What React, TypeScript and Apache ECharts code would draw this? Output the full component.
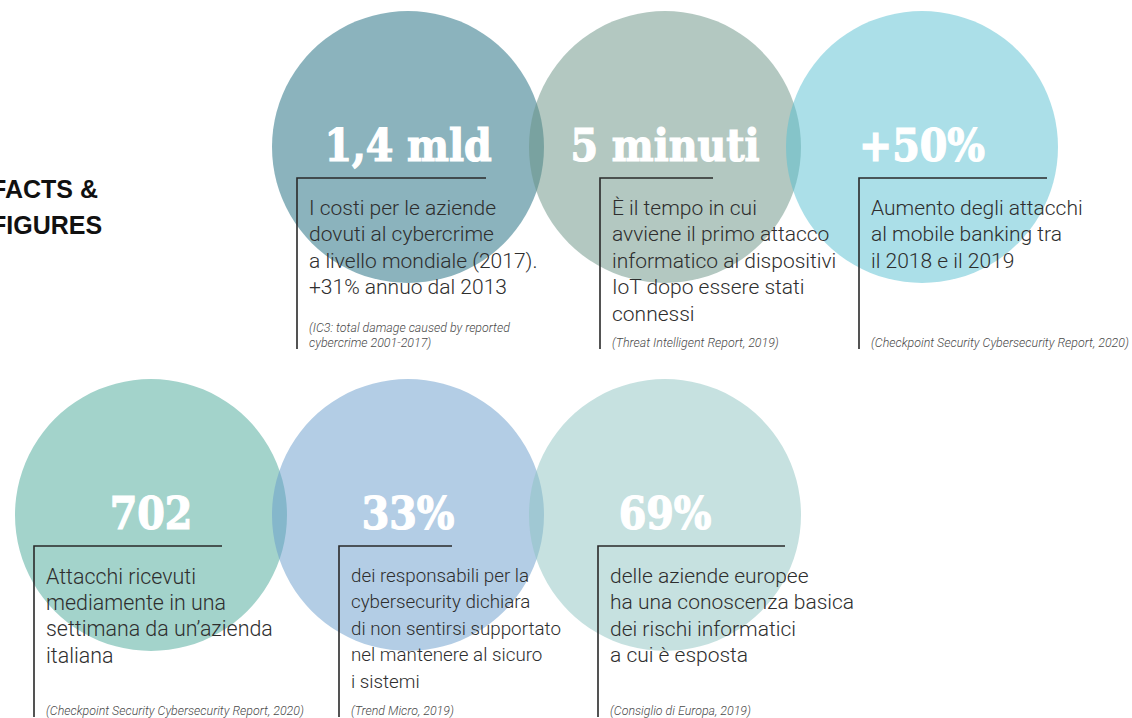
import React, { useEffect, useRef } from "react";
import * as echarts from "echarts";

// ---- data ----
const titleLines = ["FACTS &", "FIGURES"];
const figures = ["1,4 mld", "5 minuti", "+50%", "702", "33%", "69%"];
const columns = [1, 2, 3, 0, 1, 2];
const rows = [0, 0, 0, 1, 1, 1];
const descriptions = [
  ["I costi per le aziende", "dovuti al cybercrime", "a livello mondiale (2017).", "+31% annuo dal 2013"],
  ["È il tempo in cui", "avviene il primo attacco", "informatico ai dispositivi", "IoT dopo essere stati", "connessi"],
  ["Aumento degli attacchi", "al mobile banking tra", "il 2018 e il 2019"],
  ["Attacchi ricevuti", "mediamente in una", "settimana da un’azienda", "italiana"],
  ["dei responsabili per la", "cybersecurity dichiara", "di non sentirsi supportato", "nel mantenere al sicuro", "i sistemi"],
  ["delle aziende europee", "ha una conoscenza basica", "dei rischi informatici", "a cui è esposta"],
];
const sources = [
  ["(IC3: total damage caused by reported", "cybercrime 2001-2017)"],
  ["(Threat Intelligent Report, 2019)"],
  ["(Checkpoint Security Cybersecurity Report, 2020)"],
  ["(Checkpoint Security Cybersecurity Report, 2020)"],
  ["(Trend Micro, 2019)"],
  ["(Consiglio di Europa, 2019)"],
];

// ---- styles / layout ----
const circleColors = [
  "rgba(23,103,123,0.5)",
  "rgba(103,145,131,0.5)",
  "rgba(87,191,209,0.5)",
  "rgba(71,167,151,0.5)",
  "rgba(103,155,203,0.5)",
  "rgba(141,195,193,0.5)",
];
const frameOffsetX = [-111, -65, -63, -117, -69, -67];
const frameWidth = [189, 113, 188, 188, 113, 187];
const descFontSize = [21, 21, 21, 21.4, 18.8, 21];

export default function App() {
  const ref = useRef<HTMLDivElement>(null);
  useEffect(() => {
    if (!ref.current) return;
    const chart = echarts.init(ref.current, null, { renderer: "svg" });
    const points = figures.map((f, i) => ({ value: [columns[i], rows[i]], name: f }));
    chart.setOption({
      animation: false,
      backgroundColor: "#ffffff",
      grid: { left: 151, right: 210, top: 147, bottom: 203 },
      xAxis: { type: "value", min: 0, max: 3, show: false },
      yAxis: { type: "value", min: 0, max: 1, inverse: true, show: false },
      series: [
        {
          type: "scatter",
          symbol: "circle",
          symbolSize: 272,
          data: points.map((p, i) => ({ ...p, itemStyle: { color: circleColors[i], opacity: 1 } })),
          itemStyle: { opacity: 1 },
          silent: true,
          label: {
            show: true,
            position: "inside",
            offset: [0, -2],
            formatter: (p: any) => p.name,
            color: "#ffffff",
            opacity: 1,
            fontFamily: "'DejaVu Serif Condensed', 'DejaVu Serif', serif",
            fontWeight: "bold",
            fontSize: 44,
            textBorderColor: "#ffffff",
            textBorderWidth: 1.2,
          },
        },
      ],
    });

    const elements: any[] = [];
    titleLines.forEach((t, i) => {
      elements.push({
        type: "text",
        x: -9,
        y: 189 + i * 36,
        z: 100,
        style: {
          text: t,
          fill: "#111111",
          fontFamily: "'Liberation Sans', Arial, sans-serif",
          fontWeight: "bold",
          fontSize: 25,
          verticalAlign: "middle",
        },
      });
    });
    figures.forEach((_, i) => {
      const c = chart.convertToPixel({ gridIndex: 0 }, [columns[i], rows[i]]) as number[];
      const fx = c[0] + frameOffsetX[i];
      const fy = c[1] + 31;
      elements.push({
        type: "polyline",
        z: 100,
        shape: { points: [[fx + frameWidth[i], fy], [fx, fy], [fx, fy + 171]] },
        style: { stroke: "#2a2a2a", lineWidth: 1.6, fill: null },
      });
      descriptions[i].forEach((line, j) => {
        elements.push({
          type: "text",
          x: fx + 12,
          y: fy + 30 + j * 26.4,
          z: 100,
          style: {
            text: line,
            fill: "#2e2e2e",
            fontFamily: "Roboto, sans-serif",
            fontWeight: 300,
            fontSize: descFontSize[i],
            verticalAlign: "middle",
          },
        });
      });
      const n = sources[i].length;
      sources[i].forEach((line, j) => {
        elements.push({
          type: "text",
          x: fx + 12,
          y: fy + 164 - (n - 1 - j) * 15,
          z: 100,
          style: {
            text: line,
            fill: "#4a4a4a",
            fontFamily: "Roboto, sans-serif",
            fontWeight: 300,
            fontStyle: "italic",
            fontSize: 12.4,
            verticalAlign: "middle",
          },
        });
      });
    });
    chart.setOption({ graphic: { elements } });
    return () => chart.dispose();
  }, []);
  return (
    <div
      ref={ref}
      style={{ position: "fixed", left: 0, top: 0, width: 1132, height: 718, background: "#fff" }}
    />
  );
}
